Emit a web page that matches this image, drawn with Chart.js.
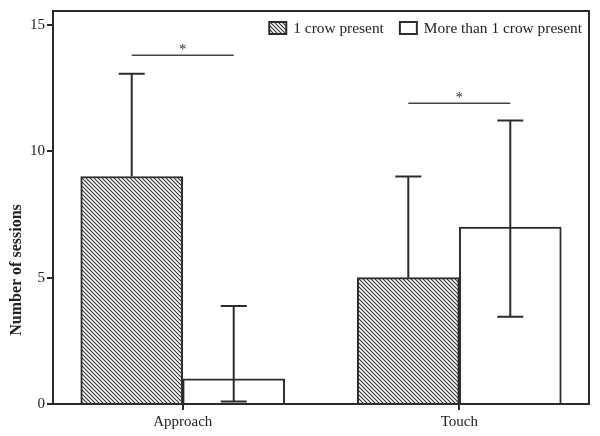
<!DOCTYPE html>
<html><head><meta charset="utf-8">
<script src="https://cdn.jsdelivr.net/npm/chart.js@4"></script>
<style>html,body{margin:0;padding:0;background:#fff}#c{display:block}</style>
</head><body>
<canvas id="c" width="600" height="436"></canvas>
<script>
const categories = ['Approach', 'Touch'];
const seriesNames = ['1 crow present', 'More than 1 crow present'];
const oneCrow = [9, 5];
const moreCrows = [1, 7];
const oneCrowErrHigh = [13.07, 9.0];
const oneCrowErrLow = [null, null];
const moreCrowsErrHigh = [3.88, 11.22];
const moreCrowsErrLow = [0.1, 3.45];
const yTicks = [0, 5, 10, 15];
const sigLevels = [13.8, 11.9];
const sigMarks = ['*', '*'];
const yTitle = 'Number of sessions';

const INK = '#2b2b2b';
const FONT = "'Liberation Serif', 'Times New Roman', serif";

function makeHatch() {
  const t = document.createElement('canvas');
  t.width = 4; t.height = 4;
  const g = t.getContext('2d');
  g.fillStyle = '#fff'; g.fillRect(0, 0, 4, 4);
  g.strokeStyle = '#333'; g.lineWidth = 1.1;
  g.beginPath();
  g.moveTo(-1, -1); g.lineTo(5, 5);
  g.moveTo(-1, 3); g.lineTo(1, 5);
  g.moveTo(3, -1); g.lineTo(5, 1);
  g.stroke();
  return document.getElementById('c').getContext('2d').createPattern(t, 'repeat');
}
const hatch = makeHatch();
const xPos = categories.map((c, i) => i + 1);

const framePlugin = {
  id: 'frame',
  afterDraw(chart) {
    const { ctx, chartArea: a } = chart;
    ctx.save();
    ctx.strokeStyle = INK; ctx.lineWidth = 2;
    ctx.beginPath();
    ctx.moveTo(a.left, a.top); ctx.lineTo(a.right, a.top); ctx.lineTo(a.right, a.bottom);
    ctx.stroke();
    // y axis title
    ctx.fillStyle = '#222';
    ctx.font = "bold 16px " + FONT;
    ctx.textAlign = 'center'; ctx.textBaseline = 'middle';
    ctx.translate(17, 270);
    ctx.rotate(-Math.PI / 2);
    ctx.fillText(yTitle, 0, 0);
    ctx.restore();

    // legend
    ctx.save();
    const items = chart.data.datasets.map(d => ({ text: d.label, fill: d.backgroundColor }));
    ctx.font = "15.4px " + FONT;
    ctx.textBaseline = 'middle'; ctx.textAlign = 'left';
    let x = a.right - 7;
    const yc = 28, bw = 17, bh = 12, gap = 7, sep = 16;
    for (let i = items.length - 1; i >= 0; i--) {
      const w = ctx.measureText(items[i].text).width;
      const tx = x - w;
      const bx = tx - gap - bw;
      ctx.fillStyle = items[i].fill;
      ctx.fillRect(bx, yc - bh / 2, bw, bh);
      ctx.strokeStyle = INK; ctx.lineWidth = 2;
      ctx.strokeRect(bx, yc - bh / 2, bw, bh);
      ctx.fillStyle = '#222';
      ctx.fillText(items[i].text, tx, yc + 1);
      x = bx - sep;
    }
    ctx.restore();
  }
};

const errPlugin = {
  id: 'errs',
  afterDatasetsDraw(chart) {
    const { ctx } = chart;
    const ys = chart.scales.y;
    const highs = [oneCrowErrHigh, moreCrowsErrHigh];
    const lows = [oneCrowErrLow, moreCrowsErrLow];
    ctx.save();
    ctx.strokeStyle = INK; ctx.lineWidth = 2;
    const cap = 13;
    for (let d = 0; d < 2; d++) {
      const meta = chart.getDatasetMeta(d);
      meta.data.forEach((bar, i) => {
        const vals = d === 0 ? oneCrow : moreCrows;
        const x = bar.x;
        const yv = ys.getPixelForValue(vals[i]);
        const yh = ys.getPixelForValue(highs[d][i]);
        ctx.beginPath();
        ctx.moveTo(x, yv); ctx.lineTo(x, yh);
        ctx.moveTo(x - cap, yh); ctx.lineTo(x + cap, yh);
        if (lows[d][i] !== null) {
          const yl = ys.getPixelForValue(lows[d][i]);
          ctx.moveTo(x, yv); ctx.lineTo(x, yl);
          ctx.moveTo(x - cap, yl); ctx.lineTo(x + cap, yl);
        }
        ctx.stroke();
      });
    }
    const m0 = chart.getDatasetMeta(0), m1 = chart.getDatasetMeta(1);
    ctx.strokeStyle = '#444'; ctx.lineWidth = 1.5;
    ctx.fillStyle = INK;
    ctx.font = "14px " + FONT;
    ctx.textAlign = 'center'; ctx.textBaseline = 'alphabetic';
    sigLevels.forEach((lv, i) => {
      const x0 = m0.data[i].x, x1 = m1.data[i].x;
      const y = ys.getPixelForValue(lv);
      ctx.beginPath(); ctx.moveTo(x0, y); ctx.lineTo(x1, y); ctx.stroke();
      ctx.fillText(sigMarks[i], (x0 + x1) / 2, y - 1);
    });
    ctx.restore();
  }
};

new Chart(document.getElementById('c'), {
  type: 'bar',
  data: {
    datasets: [
      { label: seriesNames[0], data: oneCrow.map((v, i) => ({ x: xPos[i], y: v })),
        backgroundColor: hatch, borderColor: INK, borderWidth: 2, barThickness: 102 },
      { label: seriesNames[1], data: moreCrows.map((v, i) => ({ x: xPos[i], y: v })),
        backgroundColor: '#ffffff', borderColor: INK, borderWidth: 2, barThickness: 102 }
    ]
  },
  options: {
    responsive: false,
    animation: false,
    layout: { padding: { top: 11, right: 11, left: 0, bottom: 0 } },
    plugins: {
      tooltip: { enabled: false },
      legend: { display: false }
    },
    scales: {
      x: {
        type: 'linear', min: 0.531, max: 2.469, offset: false,
        afterBuildTicks: s => { s.ticks = xPos.map(v => ({ value: v })); },
        afterFit: s => { s.height = 32; },
        ticks: { callback: (v, i) => categories[i], color: '#222', padding: 3,
          font: { family: FONT, size: 15 }, maxRotation: 0, autoSkip: false },
        grid: { display: true, drawOnChartArea: false, offset: false, tickLength: 6, color: INK, lineWidth: 2 },
        border: { display: true, color: INK, width: 2 }
      },
      y: {
        min: 0, max: 15.55,
        afterBuildTicks: s => { s.ticks = yTicks.map(v => ({ value: v })); },
        afterFit: s => { s.width = 53; },
        ticks: { color: '#222', padding: 2, font: { family: FONT, size: 15 } },
        grid: { display: true, drawOnChartArea: false, tickLength: 6, color: INK, lineWidth: 2 },
        border: { display: true, color: INK, width: 2 },
        title: { display: false }
      }
    }
  },
  plugins: [framePlugin, errPlugin]
});
</script>
</body></html>
